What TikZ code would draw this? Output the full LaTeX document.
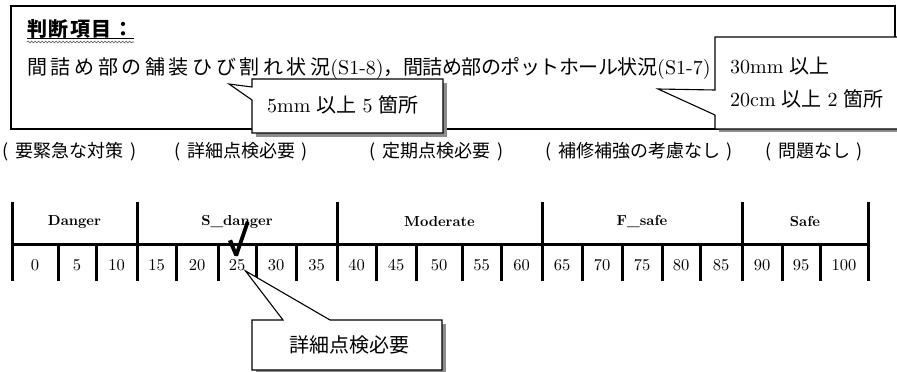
\documentclass[tikz,border=0pt]{standalone}
\usepackage{fontspec}
\setmainfont{lmroman10-regular}[Extension=.otf, BoldFont=lmroman10-bold]
\newfontfamily\cjk{Noto Sans CJK JP}
\usetikzlibrary{decorations.pathmorphing}
\tikzset{
  frame/.style={draw=black, line width=1.1pt, fill=white},
  shade/.style={fill=black!45, draw=none},
  grid/.style={line width=3pt},
  hdr/.style={font=\fontsize{14.5}{16}\selectfont\bfseries, inner sep=0pt},
  num/.style={font=\fontsize{16.5}{18}\selectfont, inner sep=0pt},
  cat/.style={font=\fontsize{18}{22}\selectfont\cjk, inner sep=0pt},
  ctxt/.style={font=\fontsize{20}{24}\selectfont, inner sep=0pt, anchor=west},
}
\newlength{\chgap}
\def\spc#1{#1\spcx}
\def\spcx#1{\ifx#1\relax\else\hspace{\chgap}#1\expandafter\spcx\fi}
\newcommand{\gap}{\hspace{0.3em}}
\newcommand{\lpar}{(\hspace{0.38em}}
\newcommand{\rpar}{\hspace{0.38em})}
\begin{document}
\begin{tikzpicture}[x=1pt,y=-1pt]
\useasboundingbox (0,0) rectangle (897,372);
\clip (0,0) rectangle (897,372);

% main frame
\draw[frame] (11,6) rectangle (895,129);
\node[ctxt] (title) at (27,29) {\cjk\bfseries\setlength{\chgap}{1.5pt}\spc 判断項目：\relax};
\draw[line width=1pt] (27,38.5) -- (134,38.5);
\draw[black!70, line width=0.6pt, decorate, decoration={snake, amplitude=0.9pt, segment length=3.5pt}] (27,42) -- (134,42);
\node[ctxt] (items) at (27,69) {{\cjk\setlength{\chgap}{3.6pt}\spc 間詰め部の舗装ひび割れ状況\relax}(S1-8){\cjk\setlength{\chgap}{-0.5pt}\spc ，間詰め部のポットホール状況\relax}(S1-7)};

% callout 5mm
\fill[shade] (256,83) rectangle (447,137);
\draw[frame] (252,79) -- (443,79) -- (443,133) -- (252,133) -- (252,100)
  coordinate (t1b) -- (229,84) coordinate (tip1) -- (252,87) -- cycle;
\node[ctxt] (c1) at (267,105) {5mm\gap{\cjk 以上}\gap 5\gap{\cjk 箇所}};

% callout 30mm
\fill[shade] (719,41) rectangle (910,132);
\draw[frame] (715,37) -- (910,37) -- (910,129) -- (715,129) -- (715,115)
  -- (658,89) coordinate (tip2) -- (715,90) -- cycle;
\node[ctxt] (c2a) at (730,66) {30mm\gap{\cjk 以上}};
\node[ctxt] (c2b) at (730,99) {20cm\gap{\cjk 以上}\gap 2\gap{\cjk 箇所}};

% category labels
\node[cat] (k1) at (69.5,152) {\lpar 要緊急な対策\rpar};
\node[cat] (k2) at (241,152) {\lpar 詳細点検必要\rpar};
\node[cat] (k3) at (436.5,152) {\lpar 定期点検必要\rpar};
\node[cat] (k4) at (639,152) {\lpar 補修補強の考慮なし\rpar};
\node[cat] (k5) at (814,152) {\lpar 問題なし\rpar};

% scale table
\draw[grid] (12,244) -- (868,244);
\foreach \x in {12,137,337,542,742,868} \draw[grid] (\x,202) -- (\x,244);
\foreach \x in {12,58,96,137,176,218,256,296,337,376,416,462,501,542,582,622,662,700,742,782,820,868}
  \draw[grid] (\x,244) -- (\x,281);
\node[hdr] (h1) at (74.5,222) {Danger};
\node[hdr] (h2) at (237,222) {S\_danger};
\node[hdr] (h3) at (439.5,222) {Moderate};
\node[hdr] (h4) at (642,222) {F\_safe};
\node[hdr] (h5) at (805,222) {Safe};
\foreach \a/\b/\n in {12/58/0,58/96/5,96/137/10,137/176/15,176/218/20,218/256/25,256/296/30,296/337/35,337/376/40,376/416/45,416/462/50,462/501/55,501/542/60,542/582/65,582/622/70,622/662/75,662/700/80,700/742/85,742/782/90,782/820/95,820/868/100}
  \node[num] (n\n) at ({(\a+\b)/2},265) {\n};

% check mark
\fill (228,241) -- (232,239.5) -- (236,250) -- (246,221) -- (249.5,222.5) -- (238,256) -- (234.5,256) -- cycle;

% callout bottom
\fill[shade] (256,324) rectangle (446,374);
\draw[frame] (252,320) -- (283,320) -- (n25.south east) -- (330,320) -- (442,320) -- (442,370) -- (252,370) -- cycle;
\node[cat, font=\fontsize{20}{24}\selectfont\cjk] (c3) at (349,345) {詳細点検必要};
\end{tikzpicture}
\end{document}
